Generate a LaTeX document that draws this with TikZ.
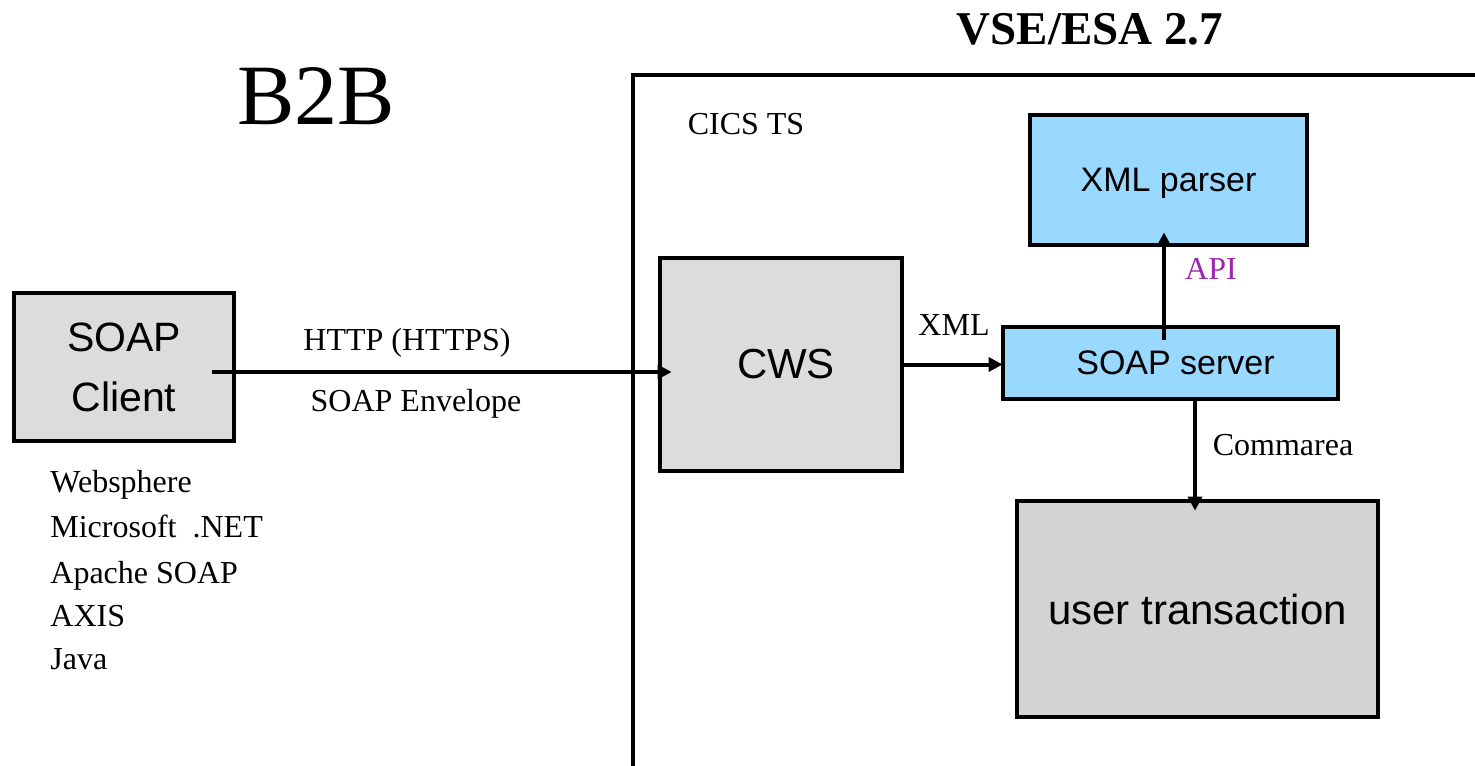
\documentclass[tikz,border=0pt]{standalone}
\usepackage{fontspec}
\setmainfont{Liberation Serif}
\setsansfont{Liberation Sans}
\usetikzlibrary{arrows.meta,calc}
\definecolor{boxgray}{RGB}{220,220,220}
\definecolor{boxgray2}{RGB}{211,211,211}
\definecolor{boxblue}{RGB}{153,217,255}
\definecolor{apipurple}{RGB}{155,40,175}
\tikzset{
  box/.style={draw=black, line width=2.4pt, inner sep=0pt, align=center},
  arr/.style={line width=2pt, -{Triangle[length=7pt,width=7pt]}},
  lbl/.style={font=\fontsize{16pt}{19pt}\selectfont, inner sep=0pt, anchor=base},
  hsf/.style={font=\sffamily\fontsize{#1}{#1}\selectfont}
}
\begin{document}
\begin{tikzpicture}[x=0.5pt,y=-0.5pt]
\useasboundingbox (0,0) rectangle (1475,765);
\fill[white] (0,0) rectangle (1475,765);
% VSE frame
\draw[line width=2.3pt] (633,775) -- (633,75) -- (1485,75);
% boxes
\node[box, fill=boxgray, minimum width=110pt, minimum height=74pt,
      font=\sffamily\fontsize{20.5pt}{30pt}\selectfont] (client) at (124,367) {SOAP\\Client};
\node[box, fill=boxgray, minimum width=121pt, minimum height=106.5pt, hsf=21pt] (cws) at (781,364.5) {\hspace*{5pt}CWS};
\node[box, fill=boxblue, minimum width=167.5pt, minimum height=36pt, hsf=17pt] (server) at (1170.5,363) {\hspace*{5pt}SOAP server};
\node[box, fill=boxblue, minimum width=138.5pt, minimum height=65pt, text depth=0pt, hsf=17pt] (parser) at (1168.5,180) {XML parser};
\node[box, fill=boxgray2, minimum width=180.5pt, minimum height=108pt, hsf=21pt] (user) at (1197.5,609) {user transaction};
% connectors
\coordinate (cs) at (212,372);
\draw[arr, shorten >=-7pt] (cs) -- (cs -| cws.west);
\draw[arr, shorten >=-1pt] (cws.east) -- (cws.east -| server.west);
\coordinate (as) at (1164,340);
\draw[arr, shorten >=-7.5pt] (as) -- (as |- parser.south);
\coordinate (cm) at (1195,397);
\draw[arr, shorten >=-6pt] (cm) -- (cm |- user.north);
% labels
\node[lbl] (http) at (407,350) {HTTP (HTTPS)};
\node[lbl] (env) at (416,411) {SOAP Envelope};
\node[lbl] (xml) at (954,335) {XML};
\node[lbl, text=apipurple] (api) at (1211,279) {API};
\node[lbl] (comm) at (1283,455) {Commarea};
\node[lbl] (cics) at (746,134) {CICS TS};
\node[lbl, font=\fontsize{43pt}{50pt}\selectfont] (b2b) at (316,124) {B2B};
\node[lbl, font=\bfseries\fontsize{23.5pt}{28pt}\selectfont] (vse) at (1090,45) {VSE/ESA 2.7};
\foreach \t/\y/\n in {{Websphere}/492/l1, {Microsoft\ \ .NET}/537/l2, {Apache SOAP}/583/l3, {AXIS}/626/l4, {Java}/669/l5}
  \node[lbl, anchor=base west] (\n) at (50,\y) {\t};
\end{tikzpicture}
\end{document}
